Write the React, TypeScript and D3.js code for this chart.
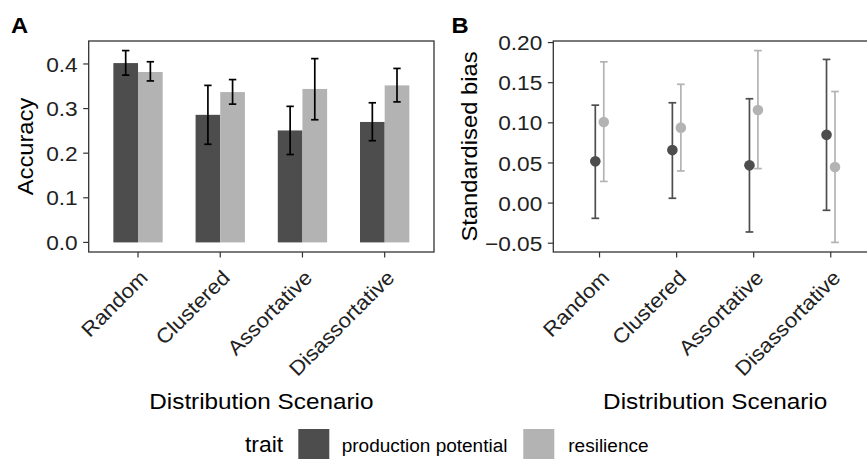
import * as React from "react"
import * as d3 from "d3"

const WIDTH = 867
const HEIGHT = 459
const SX = 1.08 // the reference glyphs are a bit wider than Liberation Sans
const FONT = "'Liberation Sans', Arial, sans-serif"

const categories = ["Random", "Clustered", "Assortative", "Disassortative"]
const traits = ["production potential", "resilience"]
const traitColors = ["#4d4d4d", "#b3b3b3"]

// panel A: accuracy (bars + error bars)
const accProd = [0.402, 0.286, 0.251, 0.27]
const accProdLo = [0.375, 0.22, 0.197, 0.228]
const accProdHi = [0.43, 0.352, 0.305, 0.313]
const accRes = [0.382, 0.337, 0.344, 0.352]
const accResLo = [0.362, 0.31, 0.275, 0.315]
const accResHi = [0.405, 0.365, 0.412, 0.39]
const accTicks = [0, 0.1, 0.2, 0.3, 0.4]

// panel B: standardised bias (points + error bars)
const biasProd = [0.052, 0.066, 0.047, 0.085]
const biasProdLo = [-0.019, 0.006, -0.036, -0.009]
const biasProdHi = [0.122, 0.125, 0.13, 0.179]
const biasRes = [0.101, 0.094, 0.116, 0.045]
const biasResLo = [0.027, 0.04, 0.043, -0.049]
const biasResHi = [0.176, 0.148, 0.19, 0.139]
const biasTicks = [-0.05, 0, 0.05, 0.1, 0.15, 0.2]

const accSeries = [
  { mean: accProd, lo: accProdLo, hi: accProdHi },
  { mean: accRes, lo: accResLo, hi: accResHi },
]
const biasSeries = [
  { mean: biasProd, lo: biasProdLo, hi: biasProdHi },
  { mean: biasRes, lo: biasResLo, hi: biasResHi },
]

function expand(lo, hi) {
  const pad = (hi - lo) * 0.05
  return [lo - pad, hi + pad]
}

function SText({ x, y, size, anchor = "start", rotate = 0, weight = "normal", dy = "0", fill = "#000", children }) {
  return (
    <g transform={`translate(${x},${y}) rotate(${rotate}) scale(${SX},1)`}>
      <text
        textAnchor={anchor}
        dy={dy}
        fontSize={size}
        fontWeight={weight}
        fontFamily={FONT}
        fill={fill}
      >
        {children}
      </text>
    </g>
  )
}

function Frame({ left, right, top, bottom, x, y, ticks, fmt, axisTitle, titleX }) {
  return (
    <g>
      <rect
        x={left}
        y={top}
        width={right - left}
        height={bottom - top}
        fill="none"
        stroke="#333"
        strokeWidth={1.3}
      />
      {ticks.map(t => (
        <g key={t}>
          <line x1={left - 5.5} x2={left} y1={y(t)} y2={y(t)} stroke="#333" strokeWidth={1.2} />
          <SText x={left - 11} y={y(t)} size={21} anchor="end" dy="0.36em" fill="#222">
            {fmt(t)}
          </SText>
        </g>
      ))}
      {categories.map(c => (
        <g key={c}>
          <line x1={x(c)} x2={x(c)} y1={bottom} y2={bottom + 5.5} stroke="#333" strokeWidth={1.2} />
          <SText x={x(c) + 11} y={bottom + 27} size={20.5} anchor="end" rotate={-45} fill="#222">
            {c}
          </SText>
        </g>
      ))}
      <SText x={(left + right) / 2} y={408.5} size={22.5} anchor="middle">
        Distribution Scenario
      </SText>
      <SText x={titleX} y={(top + bottom) / 2} size={22} anchor="middle" rotate={-90}>
        {axisTitle}
      </SText>
    </g>
  )
}

function PanelA() {
  const left = 88.7
  const right = 434
  const top = 41
  const bottom = 252
  const x = d3.scalePoint().domain(categories).range([left, right]).padding(0.6)
  const y = d3
    .scaleLinear()
    .domain(expand(0, d3.max(accSeries.flatMap(s => s.hi))))
    .range([bottom, top])
  const step = x.step()
  const barW = step * 0.3
  const cap = step * 0.09

  return (
    <g>
      <Frame
        left={left}
        right={right}
        top={top}
        bottom={bottom}
        x={x}
        y={y}
        ticks={accTicks}
        fmt={d3.format(".1f")}
        axisTitle="Accuracy"
        titleX={33}
      />
      {accSeries.map((s, i) =>
        categories.map((c, j) => {
          const x0 = x(c) - barW + i * barW
          return (
            <rect
              key={c + i}
              x={x0}
              y={y(s.mean[j])}
              width={barW}
              height={y(0) - y(s.mean[j])}
              fill={traitColors[i]}
            />
          )
        })
      )}
      {accSeries.map((s, i) =>
        categories.map((c, j) => {
          const cx = x(c) - barW / 2 + i * barW
          return (
            <g key={c + i} stroke="#000" strokeWidth={1.7}>
              <line x1={cx} x2={cx} y1={y(s.lo[j])} y2={y(s.hi[j])} />
              <line x1={cx - cap / 2} x2={cx + cap / 2} y1={y(s.lo[j])} y2={y(s.lo[j])} />
              <line x1={cx - cap / 2} x2={cx + cap / 2} y1={y(s.hi[j])} y2={y(s.hi[j])} />
            </g>
          )
        })
      )}
      <SText x={11} y={33.3} size={22} weight="bold">
        A
      </SText>
    </g>
  )
}

function PanelB() {
  const left = 553.3
  const right = 877
  const top = 41
  const bottom = 252
  const x = d3.scalePoint().domain(categories).range([left, right]).padding(0.6)
  const all = biasSeries.flatMap(s => s.lo.concat(s.hi))
  const y = d3
    .scaleLinear()
    .domain(expand(d3.min(all), d3.max(all)))
    .range([bottom, top])
  const step = x.step()
  const dodge = step * 0.055
  const cap = step * 0.1

  return (
    <g>
      <Frame
        left={left}
        right={right}
        top={top}
        bottom={bottom}
        x={x}
        y={y}
        ticks={biasTicks}
        fmt={d3.format(".2f")}
        axisTitle="Standardised bias"
        titleX={477}
      />
      {biasSeries.map((s, i) =>
        categories.map((c, j) => {
          const cx = x(c) + (i === 0 ? -dodge : dodge)
          return (
            <g key={c + i} stroke={traitColors[i]} strokeWidth={1.7}>
              <line x1={cx} x2={cx} y1={y(s.lo[j])} y2={y(s.hi[j])} />
              <line x1={cx - cap / 2} x2={cx + cap / 2} y1={y(s.lo[j])} y2={y(s.lo[j])} />
              <line x1={cx - cap / 2} x2={cx + cap / 2} y1={y(s.hi[j])} y2={y(s.hi[j])} />
              <circle cx={cx} cy={y(s.mean[j])} r={5.3} fill={traitColors[i]} stroke="none" />
            </g>
          )
        })
      )}
      <SText x={451.5} y={33.3} size={22} weight="bold">
        B
      </SText>
    </g>
  )
}

function Legend() {
  const keyX = [298.3, 523.3]
  const labelX = [341.7, 568.3]
  return (
    <g>
      <SText x={245} y={452} size={21.2}>
        trait
      </SText>
      {traits.map((t, i) => (
        <g key={t}>
          <rect x={keyX[i]} y={429} width={31} height={31} fill={traitColors[i]} />
          <SText x={labelX[i]} y={452} size={17.6}>
            {t}
          </SText>
        </g>
      ))}
    </g>
  )
}

export default function App() {
  return (
    <svg
      width={WIDTH}
      height={HEIGHT}
      style={{ position: "absolute", left: 0, top: 0, background: "#fff" }}
    >
      <rect width={WIDTH} height={HEIGHT} fill="#fff" />
      <PanelA />
      <PanelB />
      <Legend />
    </svg>
  )
}
